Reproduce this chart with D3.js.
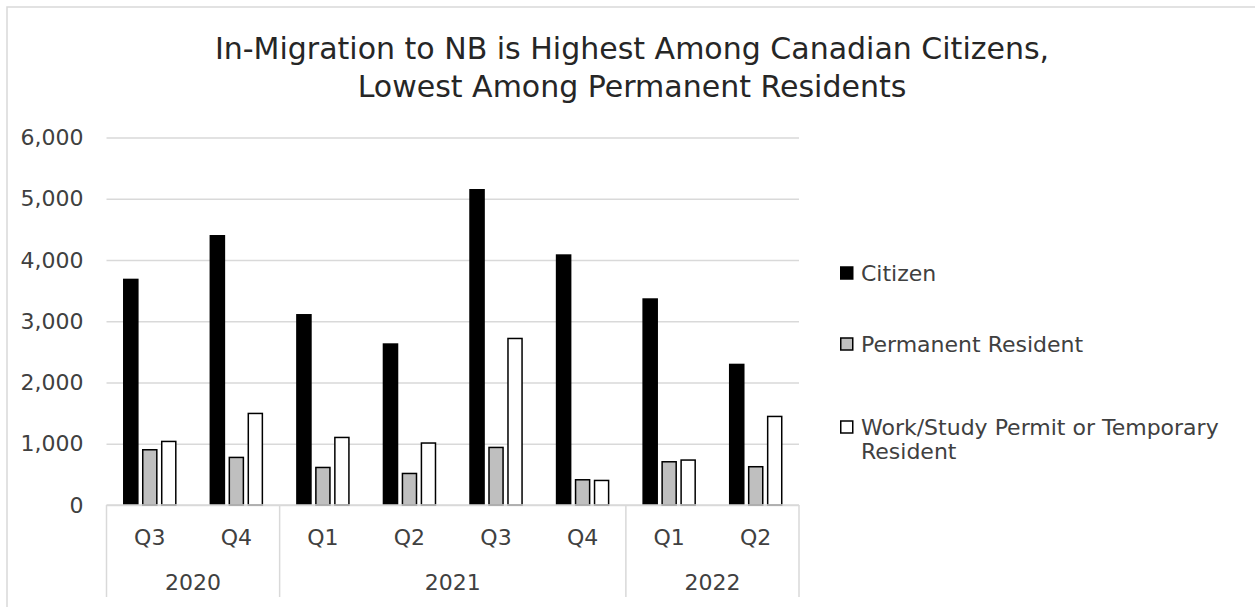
<!DOCTYPE html>
<html>
<head>
<meta charset="utf-8">
<script src="https://cdn.jsdelivr.net/npm/d3@7"></script>
<style>
  html, body { margin: 0; padding: 0; background: #fff; }
  svg { display: block; font-family: "Century Gothic", "DejaVu Sans", sans-serif; }
</style>
</head>
<body>
<svg id="vis" width="1255" height="607"></svg>
<script>
const titleLines = ["In-Migration to NB is Highest Among Canadian Citizens,", "Lowest Among Permanent Residents"];
const quarters = ["Q3", "Q4", "Q1", "Q2", "Q3", "Q4", "Q1", "Q2"];
const years = ["2020", "2020", "2021", "2021", "2021", "2021", "2022", "2022"];
const citizen = [3695, 4408, 3118, 2640, 5159, 4093, 3375, 2307];
const permanent = [914, 789, 625, 527, 952, 424, 718, 637];
const temporary = [1050, 1507, 1115, 1024, 2731, 413, 746, 1458];
const seriesNames = ["Citizen", "Permanent Resident", "Work/Study Permit or Temporary Resident"];
const seriesFills = ["#000000", "#bfbfbf", "#ffffff"];
const yTicks = [0, 1000, 2000, 3000, 4000, 5000, 6000];

const svg = d3.select("#vis");
const grid = "#d9d9d9";
const ink = "#404040";

const plot = {left: 106.5, right: 799, top: 137.5, bottom: 505};

// chart border
svg.append("rect")
    .attr("x", 7).attr("y", 7)
    .attr("width", 1260).attr("height", 620)
    .attr("fill", "#fff")
    .attr("stroke", grid)
    .attr("stroke-width", 1.5);

// title
svg.append("text")
    .attr("x", 632).attr("y", 59)
    .attr("text-anchor", "middle")
    .attr("font-size", 30)
    .attr("fill", "#262626")
    .selectAll("tspan").data(titleLines).join("tspan")
    .attr("x", 632)
    .attr("dy", (d, i) => i ? 37.5 : 0)
    .text(d => d);

const keys = quarters.map((q, i) => years[i] + " " + q);
const rows = keys.map((k, i) => ({key: k, q: quarters[i], year: years[i],
    values: [citizen[i], permanent[i], temporary[i]]}));

const x0 = d3.scaleBand().domain(keys).range([plot.left, plot.right]).padding(0);
const x1 = d3.scaleBand().domain(d3.range(3)).range([0, x0.bandwidth()])
    .paddingInner(0.18).paddingOuter(0.87);
const y = d3.scaleLinear().domain([0, 6000]).range([plot.bottom, plot.top]);

// gridlines + y labels
const yAxis = svg.append("g")
    .attr("transform", `translate(${plot.left},0)`)
    .call(d3.axisLeft(y).tickValues(yTicks).tickFormat(d3.format(","))
        .tickSize(-(plot.right - plot.left)).tickPadding(23));
yAxis.select(".domain").remove();
yAxis.selectAll(".tick line").attr("stroke", grid).attr("stroke-width", 1.5);
yAxis.selectAll(".tick text")
    .attr("font-size", 22).attr("fill", ink)
    .attr("font-family", "'Century Gothic', 'DejaVu Sans', sans-serif");

// bars
const groups = svg.append("g").selectAll("g").data(rows).join("g")
    .attr("transform", d => `translate(${x0(d.key)},0)`);
groups.selectAll("rect").data(d => d.values.map((v, i) => ({v, i}))).join("rect")
    .attr("x", d => x1(d.i) + (d.i ? 0.75 : 0))
    .attr("width", d => x1.bandwidth() - (d.i ? 1.5 : 0))
    .attr("y", d => y(d.v) + (d.i ? 0.75 : 0))
    .attr("height", d => y(0) - y(d.v) - (d.i ? 0.75 : 0))
    .attr("fill", d => seriesFills[d.i])
    .attr("stroke", d => d.i ? "#000" : "none")
    .attr("stroke-width", 1.5);

// category axis
const xa = svg.append("g");
xa.append("line")
    .attr("x1", plot.left).attr("x2", plot.right)
    .attr("y1", plot.bottom).attr("y2", plot.bottom)
    .attr("stroke", grid).attr("stroke-width", 1.5);
xa.selectAll("text.q").data(rows).join("text")
    .attr("class", "q")
    .attr("x", d => x0(d.key) + x0.bandwidth() / 2)
    .attr("y", 545)
    .attr("text-anchor", "middle")
    .attr("font-size", 22).attr("fill", ink)
    .text(d => d.q);

const yearGroups = d3.groups(rows, d => d.year).map(([yr, rs]) => ({
    year: yr,
    x1: x0(rs[0].key),
    x2: x0(rs[rs.length - 1].key) + x0.bandwidth()
}));
const seps = [plot.left].concat(yearGroups.map(g => g.x2));
xa.selectAll("line.sep").data(seps).join("line")
    .attr("class", "sep")
    .attr("x1", d => d).attr("x2", d => d)
    .attr("y1", plot.bottom).attr("y2", 597)
    .attr("stroke", grid).attr("stroke-width", 1.5);
xa.selectAll("text.yr").data(yearGroups).join("text")
    .attr("class", "yr")
    .attr("x", d => (d.x1 + d.x2) / 2)
    .attr("y", 590)
    .attr("text-anchor", "middle")
    .attr("font-size", 22).attr("fill", ink)
    .text(d => d.year);

// legend
const legendRows = [273, 344, 427];
const lg = svg.append("g").selectAll("g").data(seriesNames).join("g")
    .attr("transform", (d, i) => `translate(840,${legendRows[i]})`);
lg.append("rect")
    .attr("x", 0.75).attr("y", -6)
    .attr("width", 12).attr("height", 12)
    .attr("fill", (d, i) => seriesFills[i])
    .attr("stroke", "#000").attr("stroke-width", 1.5);
lg.append("text")
    .attr("x", 21).attr("y", 0)
    .attr("font-size", 22).attr("fill", ink)
    .selectAll("tspan")
    .data(d => d === seriesNames[2] ? ["Work/Study Permit or Temporary", "Resident"] : [d])
    .join("tspan")
    .attr("x", 21)
    .attr("dy", (d, i) => i ? 24 : 8)
    .text(d => d);
</script>
</body>
</html>
